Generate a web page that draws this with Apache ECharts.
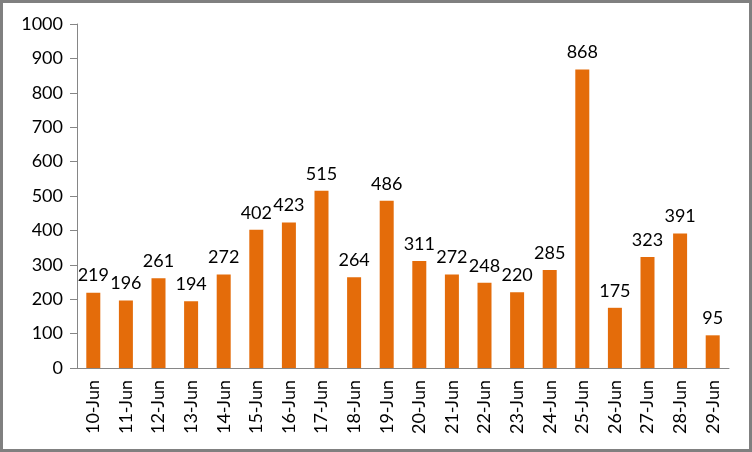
<!DOCTYPE html>
<html>
<head>
<meta charset="utf-8">
<script src="https://cdn.jsdelivr.net/npm/echarts@6/dist/echarts.min.js"></script>
<style>
  html, body { margin: 0; padding: 0; background: #fff; }
  #chart { width: 752px; height: 452px; }
</style>
</head>
<body>
<div id="chart"></div>
<script>
const days = ["10-Jun", "11-Jun", "12-Jun", "13-Jun", "14-Jun", "15-Jun", "16-Jun", "17-Jun", "18-Jun", "19-Jun",
  "20-Jun", "21-Jun", "22-Jun", "23-Jun", "24-Jun", "25-Jun", "26-Jun", "27-Jun", "28-Jun", "29-Jun"];
const counts = [219, 196, 261, 194, 272, 402, 423, 515, 264, 486, 311, 272, 248, 220, 285, 868, 175, 323, 391, 95];

const axisGray = "#868686";
const font = "Lato, 'Open Sans', sans-serif";

const chart = echarts.init(document.getElementById("chart"));
chart.setOption({
  animation: false,
  textStyle: { fontFamily: font },
  graphic: [{
    type: "rect",
    shape: { x: 1.5, y: 1.5, width: 749, height: 449 },
    style: { fill: null, stroke: "#808080", lineWidth: 3 },
    silent: true
  }],
  grid: { left: 77, right: 23, top: 24, bottom: 84 },
  xAxis: {
    type: "category",
    data: days,
    axisLine: { lineStyle: { color: axisGray } },
    axisTick: { length: 5, lineStyle: { color: axisGray } },
    axisLabel: { rotate: 90, margin: 12, color: "#000", fontSize: 18, fontFamily: font }
  },
  yAxis: {
    type: "value",
    min: 0,
    max: 1000,
    interval: 100,
    splitLine: { show: false },
    axisLine: { show: true, lineStyle: { color: axisGray } },
    axisTick: { show: true, length: 7, lineStyle: { color: axisGray } },
    axisLabel: { margin: 14, color: "#000", fontSize: 18, fontFamily: font, formatter: v => String(v) }
  },
  series: [{
    type: "bar",
    data: counts,
    barWidth: 14,
    itemStyle: { color: "#E46C0A" },
    label: { show: true, position: "top", distance: 8, color: "#000", fontSize: 18, fontFamily: font }
  }]
});
</script>
</body>
</html>
